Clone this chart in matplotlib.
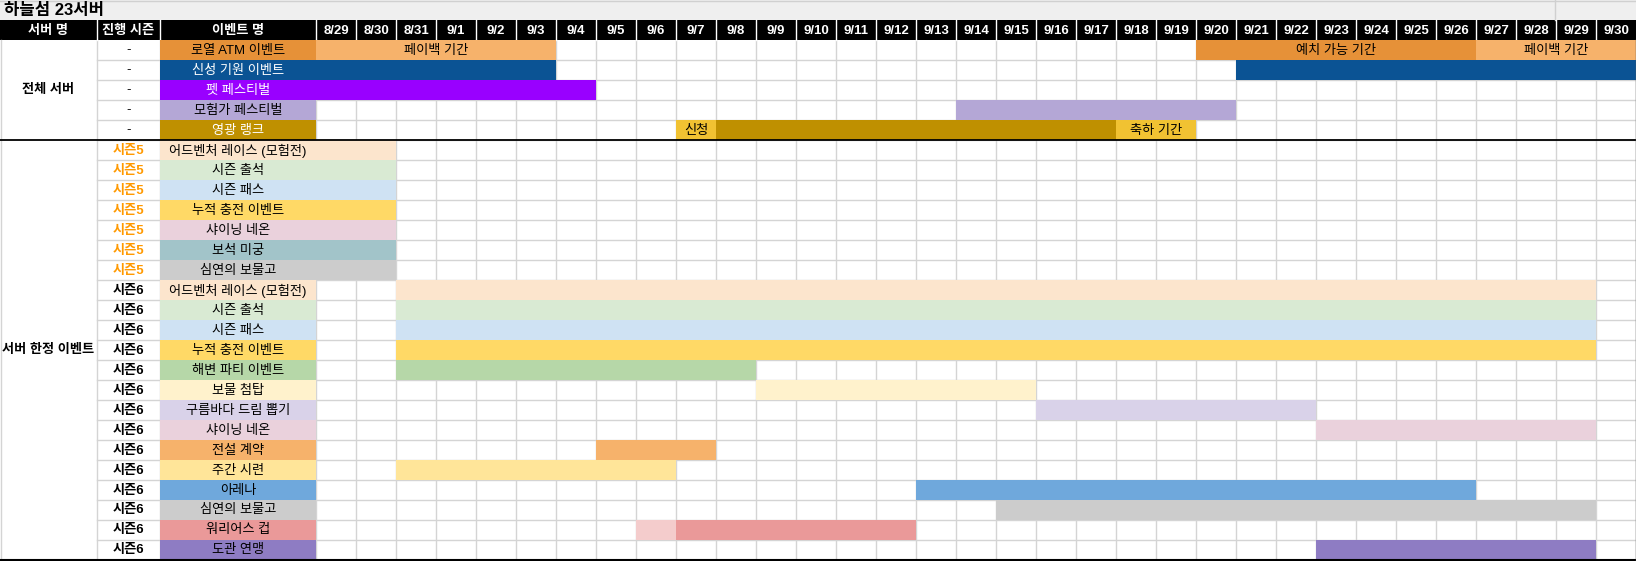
import matplotlib
matplotlib.use('Agg')
import matplotlib.pyplot as plt
from matplotlib.patches import Rectangle

# 한글은 Noto Sans CJK KR, 영문/숫자는 Liberation Sans
plt.rcParams['font.family'] = ['Liberation Sans', 'Noto Sans CJK KR']

# ---------------- 데이터 ----------------
title = '하늘섬 23서버'
col_headers = ['서버 명', '진행 시즌', '이벤트 명']
dates = ['8/29', '8/30', '8/31', '9/1', '9/2', '9/3', '9/4', '9/5', '9/6', '9/7',
         '9/8', '9/9', '9/10', '9/11', '9/12', '9/13', '9/14', '9/15', '9/16',
         '9/17', '9/18', '9/19', '9/20', '9/21', '9/22', '9/23', '9/24', '9/25',
         '9/26', '9/27', '9/28', '9/29', '9/30']

groups = ['전체 서버', '서버 한정 이벤트']
group_sizes = [5, 21]

seasons = ['-', '-', '-', '-', '-',
           '시즌5', '시즌5', '시즌5', '시즌5', '시즌5', '시즌5', '시즌5',
           '시즌6', '시즌6', '시즌6', '시즌6', '시즌6', '시즌6', '시즌6',
           '시즌6', '시즌6', '시즌6', '시즌6', '시즌6', '시즌6', '시즌6']

events = ['로열 ATM 이벤트', '신성 기원 이벤트', '펫 페스티벌', '모험가 페스티벌', '영광 랭크',
          '어드벤처 레이스 (모험전)', '시즌 출석', '시즌 패스', '누적 충전 이벤트',
          '샤이닝 네온', '보석 미궁', '심연의 보물고',
          '어드벤처 레이스 (모험전)', '시즌 출석', '시즌 패스', '누적 충전 이벤트',
          '해변 파티 이벤트', '보물 첨탑', '구름바다 드림 뽑기', '샤이닝 네온',
          '전설 계약', '주간 시련', '아레나', '심연의 보물고', '워리어스 컵', '도관 연맹']

event_colors = ['#e69138', '#0b5394', '#9900ff', '#b4a7d6', '#bf9000',
                '#fce5cd', '#d9ead3', '#cfe2f3', '#ffd966', '#ead1dc', '#a2c4c9', '#cccccc',
                '#fce5cd', '#d9ead3', '#cfe2f3', '#ffd966', '#b6d7a8', '#fff2cc',
                '#d9d2e9', '#ead1dc', '#f6b26b', '#ffe599', '#6fa8dc', '#cccccc',
                '#ea9999', '#8e7cc3']
white_text_rows = [1, 2, 4]

# (행, 시작일, 종료일, 색, 라벨)
bars = [
    (0, '8/29', '9/3', '#f6b26b', '페이백 기간'),
    (0, '9/20', '9/26', '#e69138', '예치 가능 기간'),
    (0, '9/27', '9/30', '#f6b26b', '페이백 기간'),
    (1, '8/29', '9/3', '#0b5394', ''),
    (1, '9/21', '9/30', '#0b5394', ''),
    (2, '8/29', '9/4', '#9900ff', ''),
    (3, '9/14', '9/20', '#b4a7d6', ''),
    (4, '9/7', '9/7', '#f1c232', '신청'),
    (4, '9/8', '9/17', '#bf9000', ''),
    (4, '9/18', '9/19', '#f1c232', '축하 기간'),
    (5, '8/29', '8/30', '#fce5cd', ''),
    (6, '8/29', '8/30', '#d9ead3', ''),
    (7, '8/29', '8/30', '#cfe2f3', ''),
    (8, '8/29', '8/30', '#ffd966', ''),
    (9, '8/29', '8/30', '#ead1dc', ''),
    (10, '8/29', '8/30', '#a2c4c9', ''),
    (11, '8/29', '8/30', '#cccccc', ''),
    (12, '8/31', '9/29', '#fce5cd', ''),
    (13, '8/31', '9/29', '#d9ead3', ''),
    (14, '8/31', '9/29', '#cfe2f3', ''),
    (15, '8/31', '9/29', '#ffd966', ''),
    (16, '8/31', '9/8', '#b6d7a8', ''),
    (17, '9/9', '9/15', '#fff2cc', ''),
    (18, '9/16', '9/22', '#d9d2e9', ''),
    (19, '9/23', '9/29', '#ead1dc', ''),
    (20, '9/5', '9/7', '#f6b26b', ''),
    (21, '8/31', '9/6', '#ffe599', ''),
    (22, '9/13', '9/26', '#6fa8dc', ''),
    (23, '9/15', '9/29', '#cccccc', ''),
    (24, '9/6', '9/6', '#f4cccc', ''),
    (24, '9/7', '9/12', '#ea9999', ''),
    (25, '9/23', '9/29', '#8e7cc3', ''),
]

# ---------------- 레이아웃 ----------------
W, H = 1636, 561
row_h = 20
top = 40
col_x = [0, 97, 160, 316]
day_w = 40
grid_c = '#d4d4d4'
body_fs = 9.5
n_rows = len(events)
bottom = top + n_rows * row_h

fig = plt.figure(figsize=(W / 100, H / 100), dpi=100)
ax = fig.add_axes([0, 0, 1, 1])
ax.set_xlim(0, W)
ax.set_ylim(H, 0)
ax.axis('off')


def day_x(d):
    return col_x[3] + dates.index(d) * day_w


def row_y(r):
    return top + r * row_h


# 제목 행
ax.add_patch(Rectangle((0, 0), W, 20, color='#efefef', lw=0))
ax.plot([0, W], [0.5, 0.5], color='#d0d0d0', lw=1)
ax.plot([1555, 1555], [0, 20], color='#d0d0d0', lw=1)
ax.text(4, 10.5, title, fontsize=12, fontweight='bold', va='center', ha='left')

# 헤더
ax.add_patch(Rectangle((0, 20), W, 20, color='black', lw=0))
hdr_edges = col_x + [col_x[3] + (i + 1) * day_w for i in range(len(dates))]
for i, name in enumerate(col_headers):
    ax.text((col_x[i] + col_x[i + 1]) / 2, 30.5, name, color='white',
            fontsize=9.5, fontweight='bold', ha='center', va='center')
for i, d in enumerate(dates):
    ax.text(day_x(d) + day_w / 2, 30.5, d, color='white', fontsize=9.5,
            fontweight='bold', ha='center', va='center')
for x in hdr_edges[1:-1]:
    ax.plot([x, x], [20, 40], color='white', lw=1)

# 격자
for r in range(1, n_rows):
    ax.plot([col_x[1], W], [row_y(r), row_y(r)], color=grid_c, lw=1, zorder=1)
for x in hdr_edges[1:]:
    ax.plot([x, x], [top, bottom], color=grid_c, lw=1, zorder=1)
ax.plot([0.5, 0.5], [top, bottom], color=grid_c, lw=1, zorder=1)

# 이벤트 명 셀
for r, (name, c) in enumerate(zip(events, event_colors)):
    ax.barh(row_y(r) + row_h / 2, col_x[3] - col_x[2], left=col_x[2], height=row_h,
            color=c, lw=0, zorder=2)
    tc = 'white' if r in white_text_rows else 'black'
    ax.text((col_x[2] + col_x[3]) / 2, row_y(r) + row_h / 2 + 0.5, name, color=tc,
            fontsize=body_fs, ha='center', va='center', zorder=4)

# 기간 막대
for r, s, e, c, lab in bars:
    x0 = day_x(s)
    x1 = day_x(e) + day_w
    ax.barh(row_y(r) + row_h / 2, x1 - x0, left=x0, height=row_h, color=c, lw=0, zorder=2)
    if lab:
        ax.text((x0 + x1) / 2, row_y(r) + row_h / 2 + 0.5, lab, color='black',
                fontsize=body_fs, ha='center', va='center', zorder=4)

# 시즌 열
for r, s in enumerate(seasons):
    if s == '-':
        ax.text((col_x[1] + col_x[2]) / 2, row_y(r) + row_h / 2 + 0.5, s,
                fontsize=body_fs, ha='center', va='center')
    else:
        sc = '#ff9900' if s == '시즌5' else 'black'
        ax.text((col_x[1] + col_x[2]) / 2, row_y(r) + row_h / 2 + 0.5, s, color=sc,
                fontsize=body_fs, fontweight='bold', ha='center', va='center')

# 서버 그룹 (병합 셀)
start = 0
for g, n in zip(groups, group_sizes):
    ax.text(col_x[1] / 2, row_y(start) + n * row_h / 2, g, fontsize=body_fs,
            fontweight='bold', ha='center', va='center')
    start += n

# 그룹 구분선, 외곽선
ax.plot([0, W], [row_y(group_sizes[0]), row_y(group_sizes[0])], color='black', lw=1.3, zorder=5)
ax.plot([0, W], [bottom - 0.5, bottom - 0.5], color='black', lw=1.5, zorder=5)
ax.plot([W - 0.5, W - 0.5], [top, bottom], color='#555555', lw=1, zorder=5)

fig.savefig('out.png', dpi=100)
